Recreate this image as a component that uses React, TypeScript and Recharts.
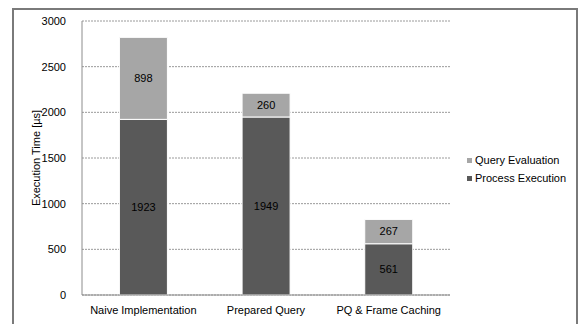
import {
  Bar,
  BarChart,
  CartesianGrid,
  LabelList,
  Legend,
  XAxis,
  YAxis,
} from "recharts";

const categories = ["Naive Implementation", "Prepared Query", "PQ & Frame Caching"];
const processExecution = [1923, 1949, 561];
const queryEvaluation = [898, 260, 267];
const yTicks = [0, 500, 1000, 1500, 2000, 2500, 3000];

const data = categories.map((name, i) => ({
  name,
  process: processExecution[i],
  query: queryEvaluation[i],
}));

const font = "'Liberation Sans', Arial, sans-serif";

const legendItems = [
  { label: "Query Evaluation", color: "#a6a6a6" },
  { label: "Process Execution", color: "#595959" },
];

function LegendBox() {
  return (
    <div style={{ fontFamily: font, fontSize: 11, color: "#000", lineHeight: "18px" }}>
      {legendItems.map((item) => (
        <div key={item.label} style={{ display: "flex", alignItems: "center" }}>
          <span
            style={{
              display: "inline-block",
              width: 5,
              height: 5,
              background: item.color,
              marginRight: 3,
            }}
          />
          {item.label}
        </div>
      ))}
    </div>
  );
}

export default function App() {
  return (
    <div style={{ position: "fixed", left: 0, top: 0, width: 579, height: 324, background: "#fff" }}>
      <BarChart
        width={579}
        height={324}
        data={data}
        margin={{ top: 21, right: 129, bottom: 0, left: 32 }}
        barCategoryGap="30.5%"
      >
        <CartesianGrid
          vertical={false}
          stroke="#9a9a9a"
          strokeDasharray="2 1"
        />
        <XAxis
          dataKey="name"
          height={29}
          axisLine={{ stroke: "#8c8c8c" }}
          tickLine={false}
          tick={{ fontSize: 11, fill: "#000", fontFamily: font }}
          tickMargin={5}
        />
        <YAxis
          domain={[0, 3000]}
          ticks={yTicks}
          width={50}
          axisLine={{ stroke: "#8c8c8c" }}
          tickLine={false}
          tick={{ fontSize: 11, fill: "#000", fontFamily: font }}
          tickMargin={10}
          label={{
            value: "Execution Time [µs]",
            angle: -90,
            position: "insideLeft",
            offset: 0,
            dx: 4,
            style: { fontSize: 11, fill: "#000", fontFamily: font, textAnchor: "middle" },
          }}
        />
        <Legend
          layout="vertical"
          align="center"
          verticalAlign="middle"
          wrapperStyle={{ left: 467, top: 151, width: 110 }}
          content={<LegendBox />}
        />
        <Bar
          dataKey="process"
          stackId="t"
          fill="#595959"
          stroke="#fff"
          strokeWidth={1}
          isAnimationActive={false}
        >
          <LabelList
            dataKey="process"
            position="center"
            style={{ fontSize: 11, fill: "#000", fontFamily: font }}
          />
        </Bar>
        <Bar
          dataKey="query"
          stackId="t"
          fill="#a6a6a6"
          stroke="#fff"
          strokeWidth={1}
          isAnimationActive={false}
        >
          <LabelList
            dataKey="query"
            position="center"
            style={{ fontSize: 11, fill: "#000", fontFamily: font }}
          />
        </Bar>
      </BarChart>
      {/* outer frame around the whole figure */}
      <div
        style={{
          position: "absolute",
          left: 12,
          top: 8,
          width: 562,
          height: 340,
          borderTop: "2px solid #7a7a7a",
          borderLeft: "2px solid #7a7a7a",
          borderRight: "2px solid #7a7a7a",
          boxSizing: "content-box",
          pointerEvents: "none",
          zIndex: 10,
        }}
      />
    </div>
  );
}
